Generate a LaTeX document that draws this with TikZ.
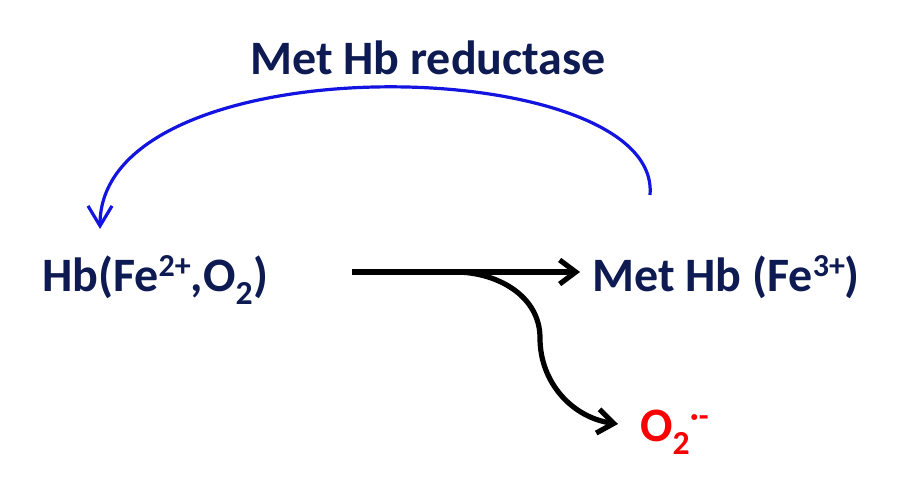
\documentclass[tikz,border=0pt]{standalone}
\usepackage{fontspec}
\setmainfont{Carlito}
\usetikzlibrary{arrows.meta}
\definecolor{hbnavy}{RGB}{14,26,82}
\definecolor{hbblue}{RGB}{20,20,225}
\definecolor{hbred}{RGB}{250,0,0}
% charge written above the line
\newcommand{\chg}[1]{\raisebox{15pt}{\fontsize{32}{36}\selectfont #1}}
\begin{document}
\begin{tikzpicture}[x=1pt,y=1pt,
    lbl/.style={color=hbnavy, inner sep=0pt, anchor=base west, font=\fontsize{48}{56}\selectfont\bfseries},
    rxn/.style={draw=black, line width=5.2pt, -{Straight Barb[length=16pt,width=24pt]}},
    cyc/.style={draw=hbblue, line width=3.2pt, -{Straight Barb[length=20pt,width=24pt]}}]

\useasboundingbox (0,0) rectangle (912,488);

% Species
\node[lbl] (hb) at (42,197) {Hb(Fe\chg{2+},O\textsubscript{2})};
\node[lbl] (met) at (592,197) {Met Hb (Fe\chg{3+})};
\node[lbl, color=hbred] (sox) at (640,47) {O\textsubscript{2}\chg{·-}};

% Enzyme label
\node[lbl] (enz) at (250,413) {Met Hb reductase};

% Oxidation arrow with branch to superoxide
\coordinate (src) at (352,216);
\coordinate (fork) at (455,216);
\coordinate (bend) at (540,150);
\draw[rxn] (src) -- ([xshift=-12pt]met.west |- src);
\draw[rxn] (fork) to[out=0,in=90] (bend) to[out=-90,in=172] ([xshift=-22pt,yshift=17pt]sox.base west);

% Reduction back to Hb
\coordinate (cstart) at (650,293);
\draw[cyc] (cstart) .. controls (662,436) and (100,448) .. ([xshift=58pt,yshift=62pt]hb.base west);

\end{tikzpicture}
\end{document}
